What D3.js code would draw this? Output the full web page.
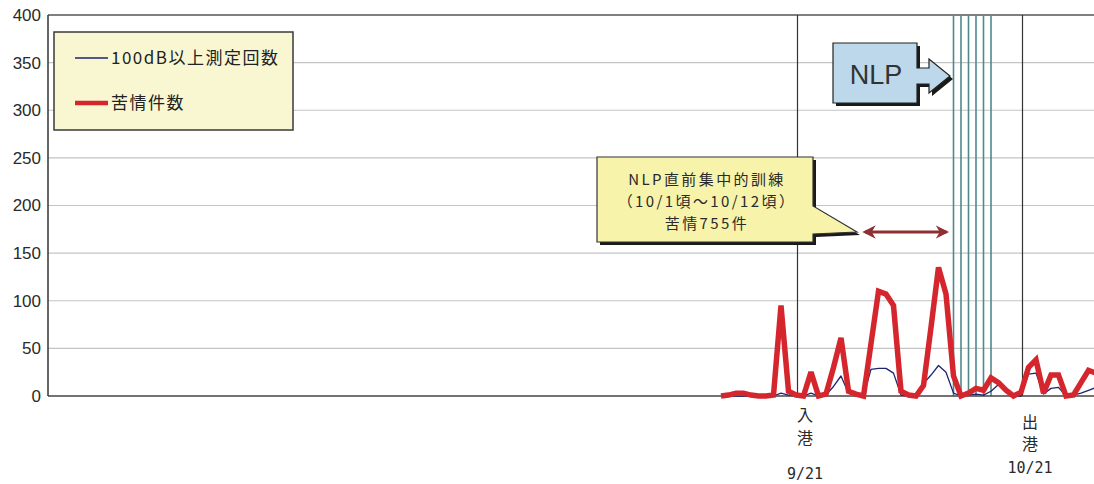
<!DOCTYPE html>
<html>
<head>
<meta charset="utf-8">
<script src="https://cdn.jsdelivr.net/npm/d3@7/dist/d3.min.js"></script>
<style>
  html, body { margin: 0; padding: 0; background: #ffffff; }
  svg { display: block; }
  text { font-family: "Liberation Sans", Arial, "Noto Sans CJK JP", sans-serif; }
  .jp { font-family: "Noto Sans CJK JP", "Liberation Sans", sans-serif; }
</style>
</head>
<body>
<svg id="chart" width="1094" height="484"></svg>
<script>
// Daily categories (9/11 - 10/31)
const dates = [
  "9/11","9/12","9/13","9/14","9/15","9/16","9/17","9/18","9/19","9/20",
  "9/21","9/22","9/23","9/24","9/25","9/26","9/27","9/28","9/29","9/30",
  "10/1","10/2","10/3","10/4","10/5","10/6","10/7","10/8","10/9","10/10",
  "10/11","10/12","10/13","10/14","10/15","10/16","10/17","10/18","10/19","10/20",
  "10/21","10/22","10/23","10/24","10/25","10/26","10/27","10/28","10/29","10/30",
  "10/31"
];

// 100dB以上測定回数
const over100dB = [
  0, 0, 0, 0, 0, 0, 0, 0, 3, 1,
  0, 0, 3, 0, 1, 10, 21, 3, 1, 0,
  28, 29, 29, 24, 1, 0, 0, 13, 22, 32,
  25, 3, 0, 1, 2, 1, 5, 12, 5, 0,
  0, 23, 24, 2, 8, 9, 0, 1, 3, 6,
  9
];

// 苦情件数
const complaints = [
  0, 1, 3, 3, 1, 0, 0, 1, 95, 5,
  1, 0, 25, 0, 2, 30, 61, 5, 2, 0,
  55, 110, 107, 95, 5, 1, 0, 11, 72, 135,
  107, 21, 0, 3, 8, 6, 19, 14, 6, 0,
  4, 30, 38, 3, 22, 22, 0, 1, 14, 27,
  24
];

const yTicks = [0, 50, 100, 150, 200, 250, 300, 350, 400];
const nlpDays = ["10/12","10/13","10/14","10/15","10/16","10/17"];
const portEvents = [
  { date: "9/21",  label: ["入", "港"] },
  { date: "10/21", label: ["出", "港"] }
];
const trainingSpan = ["10/1", "10/12"];
const legendItems = [
  { name: "100dB以上測定回数", color: "#1f2470", width: 1.3 },
  { name: "苦情件数", color: "#d4262c", width: 5.5 }
];
const calloutLines = ["NLP直前集中的訓練", "（10/1頃～10/12頃）", "苦情755件"];

const plot = { left: 48, top: 15, right: 1094, bottom: 396 };

const svg = d3.select("#chart");

const x = d3.scalePoint().domain(dates).range([721, 1096]);
const y = d3.scaleLinear().domain([0, 400]).range([plot.bottom, plot.top]);

// gridlines
svg.append("g")
  .selectAll("line")
  .data(yTicks.filter(t => t > 0 && t < 400))
  .join("line")
  .attr("x1", plot.left).attr("x2", plot.right)
  .attr("y1", d => y(d)).attr("y2", d => y(d))
  .attr("stroke", "#c4c4c4").attr("stroke-width", 1.2);

// y axis labels
const yAxis = d3.axisLeft(y).tickValues(yTicks).tickSize(0).tickPadding(7);
const yg = svg.append("g").attr("transform", `translate(${plot.left},0)`).call(yAxis);
yg.select(".domain").remove();
yg.selectAll("text")
  .attr("font-size", 17)
  .attr("fill", "#2a2a2a")
  .style("font-family", "'Liberation Sans', Arial, sans-serif");

// frame: top and left
svg.append("line").attr("x1", plot.left).attr("x2", plot.right)
  .attr("y1", plot.top).attr("y2", plot.top)
  .attr("stroke", "#555").attr("stroke-width", 1.5);
svg.append("line").attr("x1", plot.left).attr("x2", plot.left)
  .attr("y1", plot.top).attr("y2", plot.bottom)
  .attr("stroke", "#333").attr("stroke-width", 1.5);

// NLP day lines
svg.append("g")
  .selectAll("line")
  .data(nlpDays)
  .join("line")
  .attr("x1", d => x(d)).attr("x2", d => x(d))
  .attr("y1", plot.top + 1).attr("y2", plot.bottom)
  .attr("stroke", "#4e8a8c").attr("stroke-width", 1.6);

// port entry / departure lines
svg.append("g")
  .selectAll("line")
  .data(portEvents)
  .join("line")
  .attr("x1", d => x(d.date) + 1.5).attr("x2", d => x(d.date) + 1.5)
  .attr("y1", plot.top).attr("y2", plot.bottom)
  .attr("stroke", "#333").attr("stroke-width", 1.2);

// bottom axis line
svg.append("line").attr("x1", plot.left).attr("x2", plot.right)
  .attr("y1", plot.bottom).attr("y2", plot.bottom)
  .attr("stroke", "#444").attr("stroke-width", 1.5);

// series
const line = arr => d3.line()
  .x((d, i) => x(dates[i]))
  .y(d => y(d))(arr);

svg.append("path")
  .attr("d", line(over100dB))
  .attr("fill", "none")
  .attr("stroke", legendItems[0].color)
  .attr("stroke-width", legendItems[0].width)
  .attr("stroke-linejoin", "round");

svg.append("path")
  .attr("d", line(complaints))
  .attr("fill", "none")
  .attr("stroke", legendItems[1].color)
  .attr("stroke-width", legendItems[1].width)
  .attr("stroke-linejoin", "miter")
  .attr("stroke-miterlimit", 2.5);

// port labels under the axis
const pl = svg.append("g").selectAll("g").data(portEvents).join("g")
  .attr("transform", d => `translate(${x(d.date) + 9},0)`);
pl.append("text").attr("class", "jp").attr("text-anchor", "middle")
  .attr("y", d => d.date === "9/21" ? 421 : 428)
  .attr("font-size", 16).attr("fill", "#2a2a2a")
  .text(d => d.label[0]);
pl.append("text").attr("class", "jp").attr("text-anchor", "middle")
  .attr("y", d => d.date === "9/21" ? 444 : 450)
  .attr("font-size", 16).attr("fill", "#2a2a2a")
  .text(d => d.label[1]);
pl.append("text").attr("text-anchor", "middle")
  .attr("y", d => d.date === "9/21" ? 479 : 473)
  .attr("font-size", 15).attr("fill", "#2a2a2a")
  .style("font-family", "'DejaVu Sans Mono', monospace")
  .text(d => d.date);

// legend
const lg = svg.append("g");
lg.append("rect").attr("x", 54).attr("y", 32).attr("width", 239).attr("height", 98)
  .attr("fill", "#f8f7d2").attr("stroke", "#3a3a3a").attr("stroke-width", 1.5);
legendItems.forEach((it, i) => {
  const ly = 58 + i * 45;
  lg.append("line").attr("x1", 75).attr("x2", 108).attr("y1", ly).attr("y2", ly)
    .attr("stroke", it.color).attr("stroke-width", i === 1 ? 4.5 : 1.3);
  lg.append("text").attr("class", "jp").attr("x", 111).attr("y", ly + 6)
    .attr("font-size", 17).attr("letter-spacing", 1.5)
    .attr("fill", "#222").text(it.name);
});

// NLP arrow box
const nb = svg.append("g");
const nlpShape = (dx, dy) => {
  const p = [[833,43],[917,43],[917,68],[929,68],[929,59],[950,76],[929,93],[929,84],[917,84],[917,103],[833,103]];
  return "M" + p.map(q => [q[0] + dx, q[1] + dy].join(",")).join("L") + "Z";
};
nb.append("path").attr("d", nlpShape(3, 3)).attr("fill", "#1a1a1a");
nb.append("path").attr("d", nlpShape(0, 0)).attr("fill", "#bcd8ea")
  .attr("stroke", "#222").attr("stroke-width", 1.2);
nb.append("text").attr("x", 876).attr("y", 84).attr("text-anchor", "middle")
  .attr("font-size", 27).attr("fill", "#333").text("NLP");

// training callout
const cb = svg.append("g");
const calloutShape = (dx, dy) => {
  const p = [[597,157],[813,157],[813,206],[857,232],[813,234],[813,242],[597,242]];
  return "M" + p.map(q => [q[0] + dx, q[1] + dy].join(",")).join("L") + "Z";
};
cb.append("path").attr("d", calloutShape(3, 3)).attr("fill", "#1a1a1a");
cb.append("path").attr("d", calloutShape(0, 0)).attr("fill", "#f7f3aa")
  .attr("stroke", "#333").attr("stroke-width", 1.2);
calloutLines.forEach((t, i) => {
  cb.append("text").attr("class", "jp").attr("x", 707).attr("y", 185 + i * 22)
    .attr("text-anchor", "middle").attr("font-size", 15).attr("letter-spacing", 2.4)
    .attr("fill", "#2a2a2a").text(t);
});

// training period double arrow
const defs = svg.append("defs");
["s", "e"].forEach(k => {
  defs.append("marker").attr("id", "ah-" + k)
    .attr("viewBox", "0 0 10 10").attr("refX", 8).attr("refY", 5)
    .attr("markerWidth", 4.2).attr("markerHeight", 4.2)
    .attr("orient", k === "s" ? "auto-start-reverse" : "auto")
    .append("path").attr("d", "M0,0 L10,5 L0,10 L3,5 Z").attr("fill", "#8e2f33");
});
svg.append("line")
  .attr("x1", x(trainingSpan[0]) - 6).attr("x2", x(trainingSpan[1]) - 7)
  .attr("y1", 232).attr("y2", 232)
  .attr("stroke", "#8e2f33").attr("stroke-width", 3.2)
  .attr("marker-start", "url(#ah-s)").attr("marker-end", "url(#ah-e)");
</script>
</body>
</html>
